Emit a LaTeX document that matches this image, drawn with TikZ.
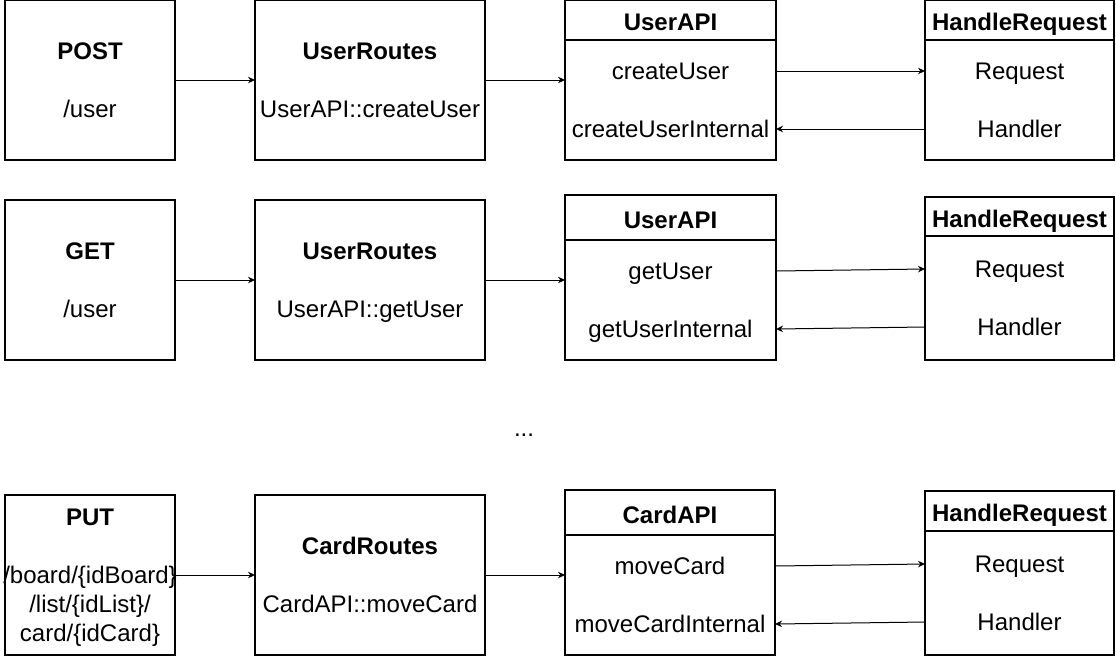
\documentclass[tikz,border=0pt]{standalone}
\usepackage{fontspec}
\setmainfont{Liberation Sans}
\usetikzlibrary{positioning, arrows.meta}

\tikzset{
    box/.style={draw=black, line width=1.3pt, inner sep=0pt, outer sep=0pt,
                align=center, text depth=0pt, font=\fontsize{24}{29}\selectfont},
    hdr/.style={box, text height=21pt, font=\fontsize{24}{29}\selectfont\bfseries},
    lbl/.style={inner sep=0pt, text height=17pt, text depth=0pt,
                font=\fontsize{24}{29}\selectfont},
    flow/.style={-{Stealth[length=7pt, width=6.5pt]}, line width=1pt}
}

\begin{document}
\begin{tikzpicture}[x=1pt, y=-1pt]
    \useasboundingbox (0,0) rectangle (1116,657);

    % POST /user
    \node[box, minimum width=170, minimum height=160] (post) at (90,80) {\textbf{POST}\\[29pt]/user};
    \node[box, minimum width=230, minimum height=160] (ur1) at (370,80) {\textbf{UserRoutes}\\[29pt]UserAPI::createUser};
    \node[hdr, minimum width=211, minimum height=40] (api1h) at (670.5,20) {UserAPI};
    \node[box, minimum width=211, minimum height=120, below=0pt of api1h] (api1b) {};
    \node[lbl, yshift=29pt] (cu1) at (api1b) {createUser};
    \node[lbl, yshift=-29pt] (cui1) at (api1b) {createUserInternal};
    \node[hdr, minimum width=189, minimum height=40] (hr1h) at (1019.5,20) {HandleRequest};
    \node[box, minimum width=189, minimum height=120, below=0pt of hr1h] (hr1b) {};
    \node[lbl, yshift=29pt] (rq1) at (hr1b) {Request};
    \node[lbl, yshift=-29pt] (hd1) at (hr1b) {Handler};

    \draw[flow] (post) -- (ur1);
    \draw[flow] (ur1.east) -- (ur1.east -| api1h.west);
    \draw[flow] (cu1 -| api1b.east) -- (rq1 -| hr1b.west);
    \draw[flow] (hd1 -| hr1b.west) -- (cui1 -| api1b.east);

    % GET /user
    \node[box, minimum width=170, minimum height=160] (get) at (90,280) {\textbf{GET}\\[29pt]/user};
    \node[box, minimum width=230, minimum height=160] (ur2) at (370,280) {\textbf{UserRoutes}\\[29pt]UserAPI::getUser};
    \node[hdr, minimum width=211, minimum height=45] (api2h) at (670.5,217.5) {UserAPI};
    \node[box, minimum width=211, minimum height=120, below=0pt of api2h] (api2b) {};
    \node[lbl, yshift=29pt] (gu2) at (api2b) {getUser};
    \node[lbl, yshift=-29pt] (gui2) at (api2b) {getUserInternal};
    \node[hdr, minimum width=189, minimum height=39] (hr2h) at (1019.5,216.5) {HandleRequest};
    \node[box, minimum width=189, minimum height=124, below=0pt of hr2h] (hr2b) {};
    \node[lbl, yshift=29pt] (rq2) at (hr2b) {Request};
    \node[lbl, yshift=-29pt] (hd2) at (hr2b) {Handler};

    \draw[flow] (get) -- (ur2);
    \draw[flow] (ur2.east) -- (ur2.east -| api2h.west);
    \draw[flow] (gu2 -| api2b.east) -- (rq2 -| hr2b.west);
    \draw[flow] (hd2 -| hr2b.west) -- (gui2 -| api2b.east);

    \node[lbl, anchor=base] (more) at (524,436) {...};

    % PUT move card
    \node[box, minimum width=170, minimum height=160] (put) at (90,575) {};
    \node[box, draw=none, text depth=0pt] (putTxt) at (put) {\textbf{PUT}\\[29pt]/board/\{idBoard\}\\/list/\{idList\}/\\card/\{idCard\}};
    \node[box, minimum width=230, minimum height=160] (cr3) at (370,575) {\textbf{CardRoutes}\\[29pt]CardAPI::moveCard};
    \node[hdr, minimum width=210, minimum height=45] (api3h) at (670,512.5) {CardAPI};
    \node[box, minimum width=210, minimum height=120, below=0pt of api3h] (api3b) {};
    \node[lbl, yshift=29pt] (mc3) at (api3b) {moveCard};
    \node[lbl, yshift=-29pt] (mci3) at (api3b) {moveCardInternal};
    \node[hdr, minimum width=189, minimum height=40] (hr3h) at (1019.5,511) {HandleRequest};
    \node[box, minimum width=189, minimum height=124, below=0pt of hr3h] (hr3b) {};
    \node[lbl, yshift=29pt] (rq3) at (hr3b) {Request};
    \node[lbl, yshift=-29pt] (hd3) at (hr3b) {Handler};

    \draw[flow] (put) -- (cr3);
    \draw[flow] (cr3.east) -- (cr3.east -| api3h.west);
    \draw[flow] (mc3 -| api3b.east) -- (rq3 -| hr3b.west);
    \draw[flow] (hd3 -| hr3b.west) -- (mci3 -| api3b.east);
\end{tikzpicture}
\end{document}
